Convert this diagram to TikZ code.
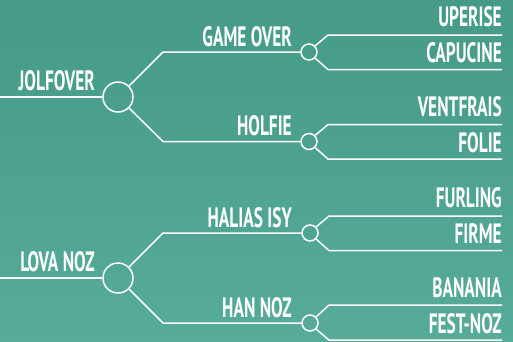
\documentclass[tikz,border=0pt]{standalone}
\usepackage{fontspec}
\setmainfont{PT Sans}[FakeStretch=0.62]
\begin{document}
\begin{tikzpicture}[x=1pt,y=-1pt,
  ln/.style={draw=white, line width=1.5pt},
  bigc/.style={circle, draw=white, line width=1.5pt, minimum size=30pt, inner sep=0pt},
  smc/.style={circle, draw=white, line width=1.5pt, minimum size=16pt, inner sep=0pt},
  lbl/.style={text=white, font=\fontsize{28}{28}\selectfont\bfseries, inner sep=0pt, anchor=base east}]
\definecolor{bgtop}{HTML}{459B87}
\definecolor{bgbot}{HTML}{57AB99}
\shade[top color=bgtop, bottom color=bgbot] (0,0) rectangle (513,341);
\useasboundingbox (0,0) rectangle (513,341);
% ---------- tree 1
\node[bigc] (r1) at (118,97) {};
\coordinate (s1) at (0,97);
\node[lbl] (t1) at (95,90) {JOLFOVER};
\draw[ln] (s1) -- (r1.west);
\node[smc] (a1) at (309,52) {};
\node[smc] (b1) at (309,141.5) {};
\coordinate (ka1) at (163,52);
\coordinate (kb1) at (163,141.5);
\draw[ln] (r1.45) -- (ka1) -- (a1.west);
\draw[ln] (r1.-45) -- (kb1) -- (b1.west);
\node[lbl] (ta1) at (292,46) {GAME OVER};
\node[lbl] (tb1) at (292,135.5) {HOLFIE};
% leaves of a1
\coordinate (la1u) at (328,35); \coordinate (ea1u) at (502,35);
\coordinate (la1d) at (328,69.5); \coordinate (ea1d) at (502,69.5);
\draw[ln] (a1.45) -- (la1u) -- (ea1u);
\draw[ln] (a1.-45) -- (la1d) -- (ea1d);
\node[lbl] (u1) at (502,26.5) {UPERISE};
\node[lbl] (u2) at (502,62) {CAPUCINE};
% leaves of b1
\coordinate (lb1u) at (328,124.5); \coordinate (eb1u) at (502,124.5);
\coordinate (lb1d) at (328,159); \coordinate (eb1d) at (502,159);
\draw[ln] (b1.45) -- (lb1u) -- (eb1u);
\draw[ln] (b1.-45) -- (lb1d) -- (eb1d);
\node[lbl] (v1) at (502,116.5) {VENTFRAIS};
\node[lbl] (v2) at (502,152) {FOLIE};
% ---------- tree 2
\node[bigc] (r2) at (118,278) {};
\coordinate (s2) at (0,278);
\node[lbl] (t2) at (95,271) {LOVA NOZ};
\draw[ln] (s2) -- (r2.west);
\node[smc] (a2) at (310,233) {};
\node[smc] (b2) at (310,323) {};
\coordinate (ka2) at (163,233);
\coordinate (kb2) at (163,323);
\draw[ln] (r2.45) -- (ka2) -- (a2.west);
\draw[ln] (r2.-45) -- (kb2) -- (b2.west);
\node[lbl] (ta2) at (292,227) {HALIAS ISY};
\node[lbl] (tb2) at (292,317) {HAN NOZ};
% leaves of a2
\coordinate (la2u) at (329,216); \coordinate (ea2u) at (502,216);
\coordinate (la2d) at (329,250.5); \coordinate (ea2d) at (502,250.5);
\draw[ln] (a2.45) -- (la2u) -- (ea2u);
\draw[ln] (a2.-45) -- (la2d) -- (ea2d);
\node[lbl] (w1) at (502,207) {FURLING};
\node[lbl] (w2) at (502,243) {FIRME};
% leaves of b2
\coordinate (lb2u) at (329,305); \coordinate (eb2u) at (502,305);
\coordinate (lb2d) at (329,340); \coordinate (eb2d) at (502,340);
\draw[ln] (b2.45) -- (lb2u) -- (eb2u);
\draw[ln] (b2.-45) -- (lb2d) -- (eb2d);
\node[lbl] (x1) at (502,297) {BANANIA};
\node[lbl] (x2) at (502,333) {FEST-NOZ};
\end{tikzpicture}
\end{document}
